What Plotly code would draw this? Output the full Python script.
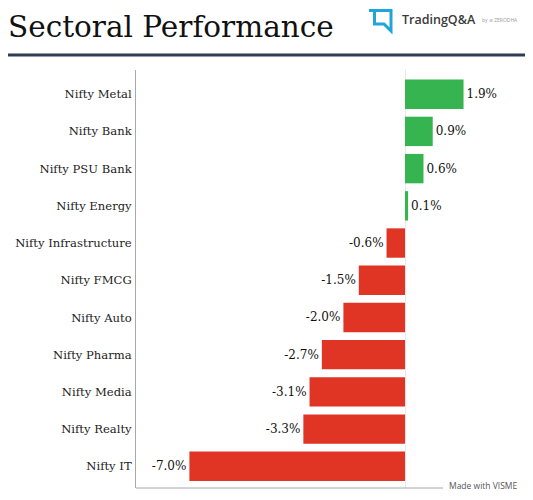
import plotly.graph_objects as go

categories = ["Nifty Metal", "Nifty Bank", "Nifty PSU Bank", "Nifty Energy",
              "Nifty Infrastructure", "Nifty FMCG", "Nifty Auto", "Nifty Pharma",
              "Nifty Media", "Nifty Realty", "Nifty IT"]
values = [1.9, 0.9, 0.6, 0.1, -0.6, -1.5, -2.0, -2.7, -3.1, -3.3, -7.0]
labels = [f"{v:.1f}%" for v in values]

GREEN = "#36b44f"
RED = "#e03424"
colors = [GREEN if v >= 0 else RED for v in values]

SERIF = "DejaVu Serif"

# The page body has an 8px margin, so the figure is placed at (8, 8).
OFF = 8
PLOT_L, PLOT_R, PLOT_T, PLOT_B = 136, 500, 70, 488
W, H = 533 - OFF, 500 - OFF
PW, PH = PLOT_R - PLOT_L, PLOT_B - PLOT_T


def px(x):
    return (x - PLOT_L) / PW


def py(y):
    return (PLOT_B - y) / PH


fig = go.Figure(go.Bar(
    x=values, y=categories, orientation="h",
    marker=dict(color=colors, line=dict(width=0)),
    text=labels, textposition="outside", cliponaxis=False,
    textfont=dict(family=SERIF, size=12, color="#111"),
    hoverinfo="skip",
))

fig.update_layout(
    width=W, height=H,
    margin=dict(l=PLOT_L - OFF, r=W - (PLOT_R - OFF), t=PLOT_T - OFF,
                b=H - (PLOT_B - OFF), pad=0),
    paper_bgcolor="white", plot_bgcolor="white",
    bargap=0.21,
    showlegend=False,
    xaxis=dict(range=[-8.734, 3.084], showgrid=False, showticklabels=False,
               zeroline=True, zerolinecolor="#e8e8e8", zerolinewidth=1,
               showline=False, ticks="", automargin=False),
    yaxis=dict(range=[10.583, -0.65], showgrid=False, zeroline=False,
               showline=True, linecolor="#a8a8a8", linewidth=1, ticks="",
               ticklabelstandoff=1, automargin=False,
               tickfont=dict(family=SERIF, size=11.6, color="#222")),
    font=dict(family=SERIF),
)

# bottom axis rule (shorter than the plot area, as in the reference)
fig.add_shape(type="line", xref="paper", yref="paper",
              x0=px(136), x1=px(443), y0=0, y1=0,
              line=dict(color="#a8a8a8", width=1))

# Title
fig.add_annotation(text="Sectoral Performance", xref="paper", yref="paper",
                   x=px(6), y=py(27), xanchor="left", yanchor="middle",
                   showarrow=False,
                   font=dict(family=SERIF, size=29.5, color="#111"))

# Header rule
fig.add_shape(type="line", xref="paper", yref="paper",
              x0=px(0), x1=px(533), y0=py(55), y1=py(55),
              line=dict(color="#2c3e56", width=3))

# Logo icon
fig.add_shape(type="path", xref="paper", yref="paper",
              path=f"M {px(369)},{py(10.5)} L {px(391)},{py(10.5)} L {px(391)},{py(31)} "
                   f"L {px(384)},{py(24)} L {px(374.5)},{py(24)} L {px(374.5)},{py(10.5)}",
              line=dict(color="#1ea5dc", width=3))

fig.add_annotation(text="TradingQ&A", xref="paper", yref="paper",
                   x=px(400), y=py(20), xanchor="left", yanchor="middle",
                   showarrow=False,
                   font=dict(family="Open Sans", size=12.5, color="#3a3a3a", weight=600))
fig.add_annotation(text="by ≋ ZERODHA", xref="paper", yref="paper",
                   x=px(480), y=py(20), xanchor="left", yanchor="middle",
                   showarrow=False,
                   font=dict(family="Open Sans", size=5, color="#9a9a9a"))

fig.add_annotation(text="Made with VISME", xref="paper", yref="paper",
                   x=px(447), y=py(485), xanchor="left", yanchor="middle",
                   showarrow=False,
                   font=dict(family="Open Sans", size=8.5, color="#555"))

fig.write_html("out.html")
